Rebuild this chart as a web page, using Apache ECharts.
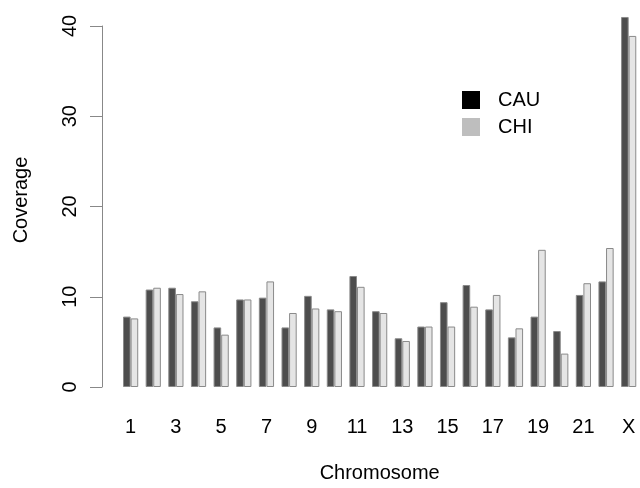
<!DOCTYPE html>
<html>
<head>
<meta charset="utf-8">
<script src="https://cdn.jsdelivr.net/npm/echarts@6/dist/echarts.min.js"></script>
<style>
html,body{margin:0;padding:0;background:#fff;}
#chart{width:640px;height:488px;}
</style>
</head>
<body>
<div id="chart"></div>
<script>
const categories = ['1','2','3','4','5','6','7','8','9','10','11','12','13','14','15','16','17','18','19','20','21','22','X'];
const cauValues = [7.8,10.8,11.0,9.5,6.6,9.7,9.9,6.6,10.1,8.6,12.3,8.4,5.4,6.7,9.4,11.3,8.6,5.5,7.8,6.2,10.2,11.7,41.0];
const chiValues = [7.6,11.0,10.3,10.6,5.8,9.7,11.7,8.2,8.7,8.4,11.1,8.2,5.1,6.7,6.7,8.9,10.2,6.5,15.2,3.7,11.5,15.4,38.9];
const yTicks = [0,10,20,30,40];

const FONT = '"Liberation Sans", Arial, Helvetica, sans-serif';
const chart = echarts.init(document.getElementById('chart'), null, {renderer:'canvas'});
chart.setOption({
  animation:false,
  backgroundColor:'#ffffff',
  textStyle:{fontFamily:FONT},
  grid:{left:119.3, width:522.8, top:26, bottom:97, containLabel:false},
  legend:{
    orient:'vertical', left:457, top:85, itemWidth:18, itemHeight:18, itemGap:7,
    icon:'rect', selectedMode:false,
    textStyle:{fontFamily:FONT, fontSize:20, color:'#000', padding:[0,0,0,13], lineHeight:18},
    data:[
      {name:'CAU', itemStyle:{color:'#000000', borderWidth:0}},
      {name:'CHI', itemStyle:{color:'#bebebe', borderWidth:0}}
    ]
  },
  graphic:[{
    type:'text', x:21, y:200, rotation:Math.PI/2,
    style:{text:'Coverage', fill:'#000', font:'20px ' + FONT, textAlign:'center', textVerticalAlign:'middle'}
  }],
  xAxis:{
    type:'category', data:categories, boundaryGap:true,
    axisLine:{show:false}, axisTick:{show:false},
    axisLabel:{interval:function(i){return i%2===0;}, fontSize:20, color:'#000', margin:30, fontFamily:FONT},
    name:'Chromosome', nameLocation:'middle', nameGap:76,
    nameTextStyle:{fontSize:20, color:'#000', fontFamily:FONT}
  },
  yAxis:{
    type:'value', min:0, max:40, interval:10, offset:17.3,
    splitLine:{show:false},
    axisLine:{show:true, lineStyle:{color:'#888', width:1}},
    axisTick:{show:true, length:12, lineStyle:{color:'#888', width:1}},
    axisLabel:{rotate:90, fontSize:20, color:'#000', margin:22, fontFamily:FONT,
      formatter:function(v){return yTicks.indexOf(v)>=0 ? String(v) : '';}}
  },
  series:[
    {name:'CAU', type:'bar', data:cauValues, barWidth:7.6, barGap:'0%', clip:false,
     itemStyle:{color:'#4d4d4d', borderColor:'#8a8a8a', borderWidth:1}},
    {name:'CHI', type:'bar', data:chiValues, barWidth:7.6, barGap:'0%', clip:false,
     itemStyle:{color:'#e5e5e5', borderColor:'#8a8a8a', borderWidth:1}}
  ]
});
</script>
</body>
</html>
